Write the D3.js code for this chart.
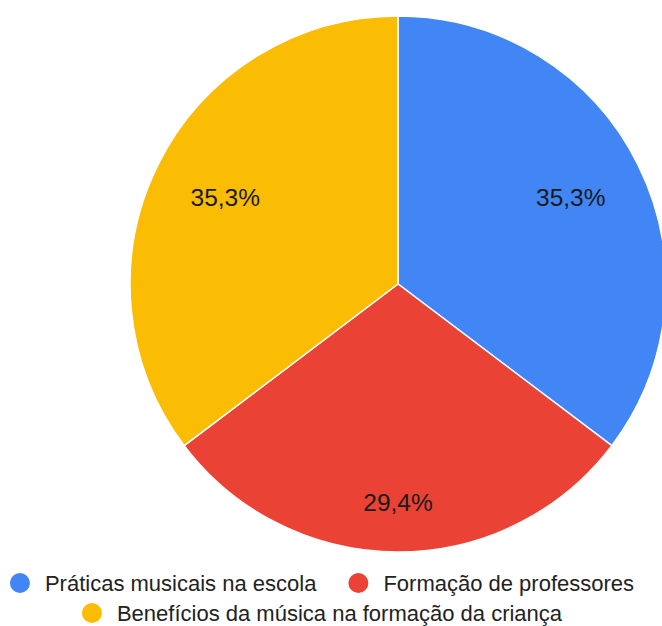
<!DOCTYPE html>
<html>
<head>
<meta charset="utf-8">
<script src="https://cdn.jsdelivr.net/npm/d3@7"></script>
<style>
  body { margin: 0; background: #fff; }
  text { font-family: "Liberation Sans", Arial, sans-serif; }
</style>
</head>
<body>
<svg id="svg1" width="662" height="626"></svg>
<script>
// data
const categories = ["Práticas musicais na escola", "Formação de professores", "Benefícios da música na formação da criança"];
const values = [35.3, 29.4, 35.3];
const labels = ["35,3%", "29,4%", "35,3%"];
const colors = ["#4285f4", "#ea4335", "#fbbc04"];

const svg = d3.select("#svg1");
const cx = 398, cy = 284, radius = 268;

const pieData = d3.pie().sort(null)(values);
const arc = d3.arc().innerRadius(0).outerRadius(radius);

const g = svg.append("g").attr("transform", `translate(${cx},${cy})`);

g.selectAll("path")
  .data(pieData)
  .join("path")
  .attr("d", arc)
  .attr("fill", (d, i) => colors[i])
  .attr("stroke", "#fff")
  .attr("stroke-width", 1.5);

// label radius per slice (google puts the bottom one further out)
const labelR = [0.72, 0.82, 0.72];
g.selectAll("text.lbl")
  .data(pieData)
  .join("text")
  .attr("class", "lbl")
  .attr("transform", (d, i) => {
    const r = radius * labelR[i];
    const c = d3.arc().innerRadius(r).outerRadius(r).centroid(d);
    return `translate(${c[0]},${c[1] - 1})`;
  })
  .attr("text-anchor", "middle")
  .attr("dy", "0.35em")
  .attr("font-size", 24.5)
  .attr("fill", "#1a1a1a")
  .text((d, i) => labels[i]);

// legend
const rows = [[0, 1], [2]];
const rowY = [583, 613];
const legendCenter = 322;
rows.forEach((row, ri) => {
  const lg = svg.append("g");
  let x = 0;
  row.forEach((idx, k) => {
    if (k > 0) x += 32;
    lg.append("circle").attr("cx", x + 10).attr("cy", rowY[ri]).attr("r", 10).attr("fill", colors[idx]);
    const t = lg.append("text")
      .attr("x", x + 35)
      .attr("y", rowY[ri])
      .attr("dy", "0.35em")
      .attr("font-size", 22)
      .attr("fill", "#222")
      .text(categories[idx]);
    x += 35 + t.node().getComputedTextLength();
  });
  lg.attr("transform", `translate(${legendCenter - x / 2},0)`);
});
</script>
</body>
</html>
